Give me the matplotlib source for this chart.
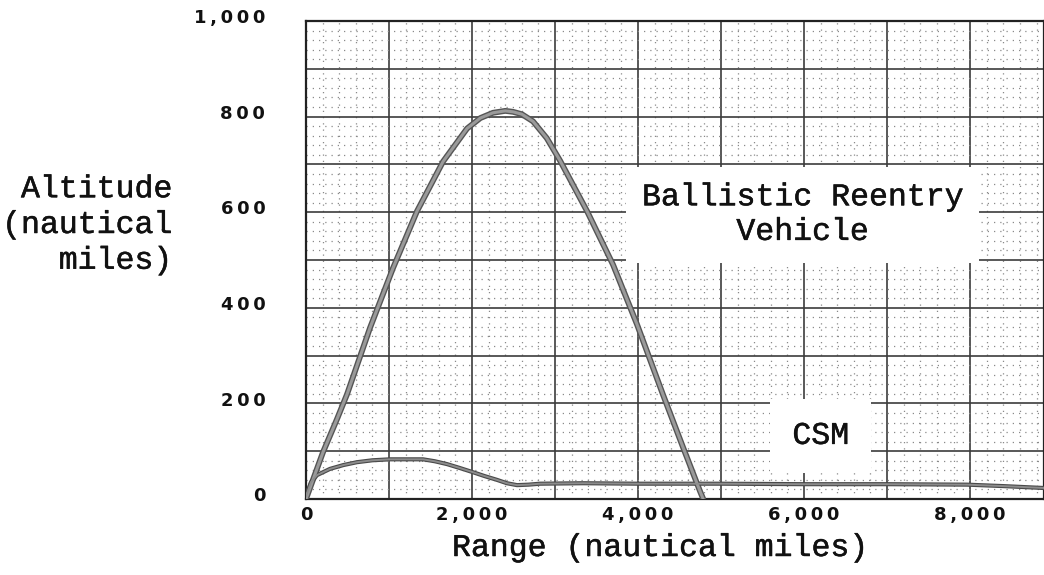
import matplotlib
matplotlib.use('Agg')
import matplotlib.pyplot as plt
import matplotlib.patheffects as pe
from matplotlib.ticker import MultipleLocator

# data
ballistic_range = [0, 205, 373, 494, 771, 1048, 1337, 1651, 1940, 2100, 2253,
                   2400, 2494, 2600, 2735, 2900, 3060, 3386, 3699, 3988, 4301,
                   4542, 4747, 4785]
ballistic_alt = [0, 98, 167, 219, 358, 483, 602, 706, 775, 797, 808,
                 812, 810, 805, 790, 755, 708, 602, 490, 365, 218,
                 108, 16, 0]

csm_range = [0, 60, 133, 289, 450, 614, 800, 1012, 1200, 1410, 1550, 1699,
             1850, 2012, 2150, 2301, 2420, 2542, 2680, 2819, 3337, 4000,
             5000, 6000, 7000, 7964, 8400, 8890]
csm_alt = [6, 35, 50, 63, 71, 77, 81, 83, 83, 83, 79, 73,
           65, 56, 48, 40, 33, 29, 30, 32, 33, 32,
           32, 31, 31, 30, 27, 23]

x_ticks = [0, 2000, 4000, 6000, 8000]
x_tick_labels = ['0', '2,000', '4,000', '6,000', '8,000']
y_ticks = [0, 200, 400, 600, 800, 1000]
y_tick_labels = ['0', '200', '400', '600', '800', '1,000']

MONO = 'Liberation Mono'
FS = 22.7
GRID = '#3c3c3c'
DOT = '#8a8a8a'
# slightly heavier strokes, like the printed courier
HEAVY = [pe.withStroke(linewidth=0.35, foreground='#111111')]


def spaced(s):
    # wide letter spacing like the old plotter font
    return '\u2009'.join(s)


fig = plt.figure(figsize=(10.44, 5.75), dpi=100)
ax = fig.add_axes([306 / 1044, 76 / 575, 1 - 306 / 1044, 478 / 575])

ax.set_xlim(0, 8890)
ax.set_ylim(0, 1000)

# grid: solid major, dotted minor
ax.xaxis.set_major_locator(MultipleLocator(1000))
ax.yaxis.set_major_locator(MultipleLocator(100))
ax.xaxis.set_minor_locator(MultipleLocator(200))
ax.yaxis.set_minor_locator(MultipleLocator(20))
ax.grid(which='major', color=GRID, lw=1.2, zorder=1)
ax.grid(which='minor', color=DOT, lw=0.9, ls=(0, (1, 4)), zorder=0)
ax.set_axisbelow(True)
for sp in ax.spines.values():
    sp.set_color('#222222')
    sp.set_linewidth(1.6)

# tick labels only at the labelled positions
ax.tick_params(which='both', length=0)
ax.set_xticklabels([])
ax.set_yticklabels([])
for x, lbl in zip(x_ticks, x_tick_labels):
    ax.text(x, -14, spaced(lbl), ha='center', va='top', fontsize=13,
            fontweight='bold', family='DejaVu Sans', color='#111',
            clip_on=False)
for y, lbl in zip(y_ticks, y_tick_labels):
    ax.text(-490, y + 6, spaced(lbl), ha='right', va='center', fontsize=13,
            fontweight='bold', family='DejaVu Sans', color='#111',
            clip_on=False)

# curves
ax.plot(ballistic_range, ballistic_alt, color='#555555', lw=4.2,
        solid_capstyle='round', solid_joinstyle='round', zorder=4)
ax.plot(ballistic_range, ballistic_alt, color='#9a9a9a', lw=2.2,
        solid_capstyle='round', solid_joinstyle='round', zorder=5)
ax.plot(csm_range, csm_alt, color='#4a4a4a', lw=3.0,
        solid_capstyle='round', solid_joinstyle='round', zorder=4)
ax.plot(csm_range, csm_alt, color='#8c8c8c', lw=1.4,
        solid_capstyle='round', solid_joinstyle='round', zorder=5)

# labels on the chart
ax.text(5980, 595, 'Ballistic Reentry\nVehicle', ha='center', va='center',
        fontsize=FS, family=MONO, color='#111', linespacing=1.2,
        bbox=dict(boxstyle='square,pad=0.5', fc='white', ec='none'),
        path_effects=HEAVY, zorder=6)
ax.text(6200, 132, 'CSM', ha='center', va='center',
        fontsize=FS, family=MONO, color='#111',
        bbox=dict(boxstyle='square,pad=0.7', fc='white', ec='none'),
        path_effects=HEAVY, zorder=6)

fig.text(452 / 1044, 1 - 548 / 575, 'Range (nautical miles)',
         ha='left', va='center', fontsize=FS, family=MONO, color='#111',
         path_effects=HEAVY)
fig.text(172 / 1044, 1 - 225 / 575, 'Altitude\n(nautical\nmiles)',
         ha='right', va='center', multialignment='right', fontsize=FS,
         family=MONO, color='#111', linespacing=1.25, path_effects=HEAVY)

fig.savefig('out.png', dpi=100, facecolor='white')
